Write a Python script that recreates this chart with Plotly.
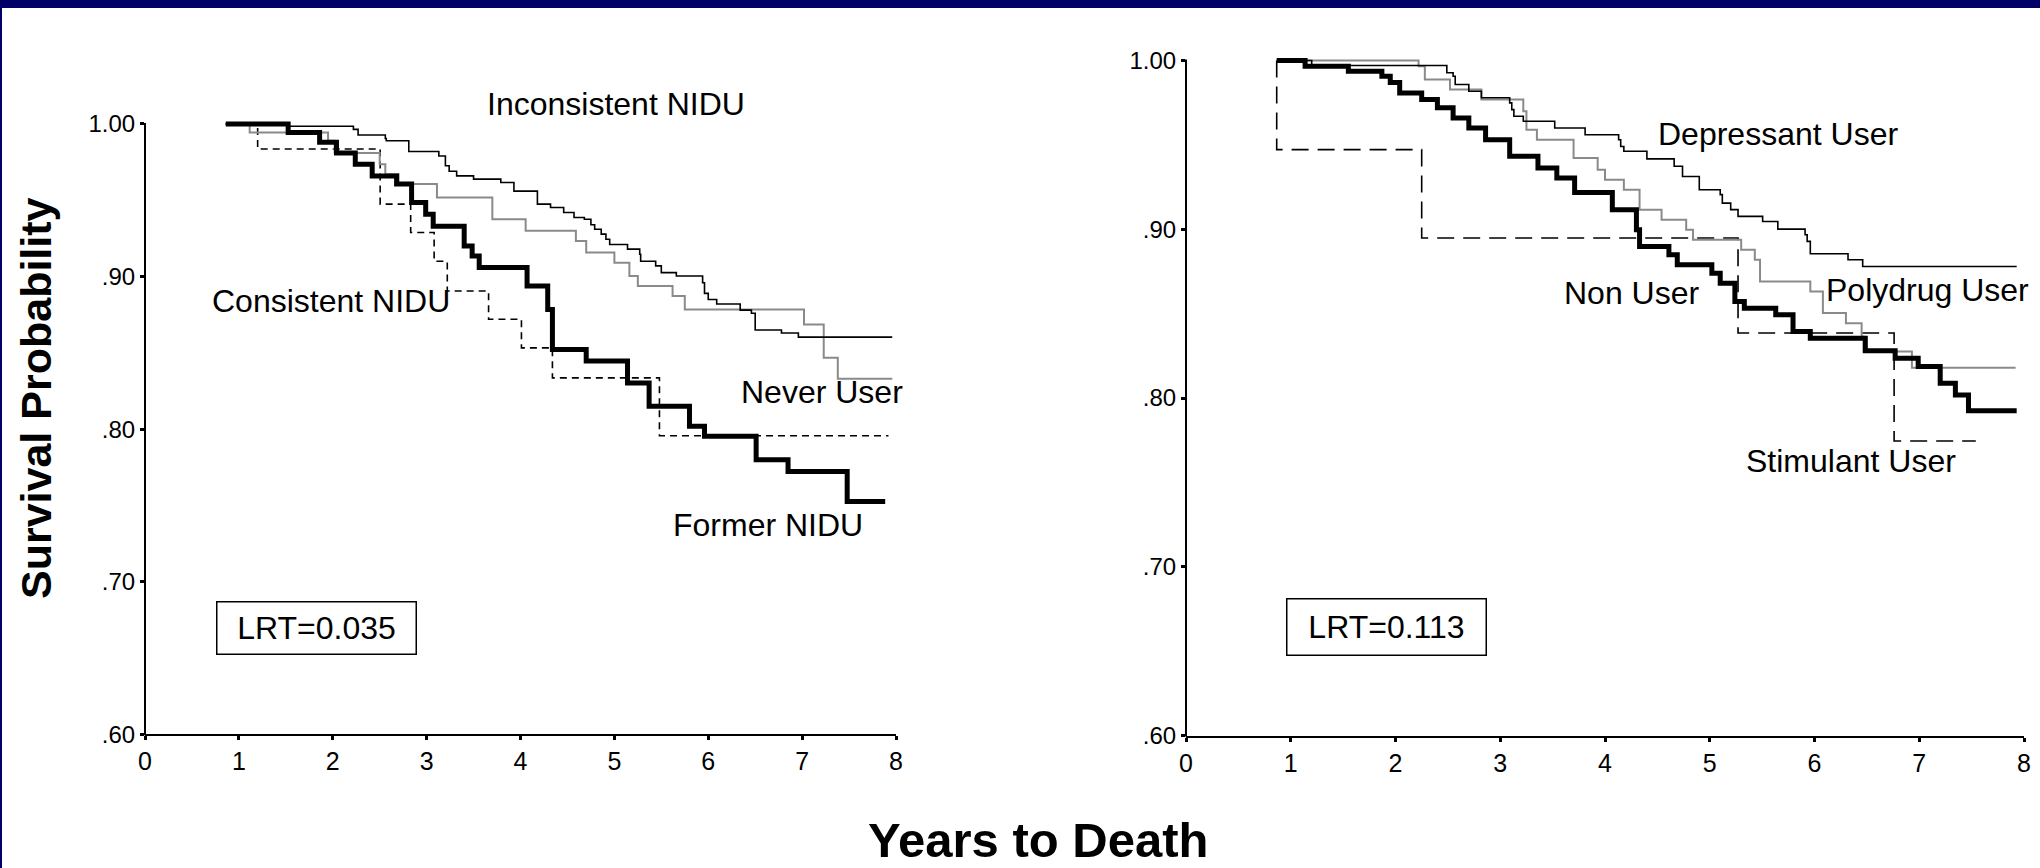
import plotly.graph_objects as go

# ---- Kaplan-Meier step data (years, survival probability) ----
# Panel A: NIDU (non-injection drug use) history
inconsistent_t = [0.86, 1.52, 2.22, 2.27, 2.56, 2.57, 2.81, 3.13, 3.20, 3.24, 3.32, 3.50, 3.79, 3.93,
                  4.18, 4.32, 4.46, 4.57, 4.68, 4.75, 4.79, 4.86, 4.91, 4.95, 5.14, 5.27, 5.28, 5.44,
                  5.50, 5.66, 5.94, 5.96, 6.00, 6.09, 6.34, 6.46, 6.50, 6.78, 6.96, 7.96]
inconsistent_s = [1.0, 0.9985, 0.9965, 0.9928, 0.9905, 0.989, 0.982, 0.979, 0.9726, 0.969, 0.966,
                  0.9639, 0.9617, 0.956, 0.9475, 0.9453, 0.942, 0.9387, 0.9376, 0.934, 0.931, 0.9278,
                  0.9245, 0.921, 0.918, 0.9146, 0.910, 0.907, 0.9026, 0.9004, 0.896, 0.889, 0.885,
                  0.882, 0.878, 0.876, 0.865, 0.863, 0.8603, 0.8603]

never_t = [0.86, 1.115, 1.95, 2.02, 2.50, 2.56, 2.70, 3.11, 3.70, 4.055, 4.59, 4.70, 5.00, 5.16,
           5.25, 5.62, 5.75, 7.02, 7.23, 7.38, 7.96]
never_s = [1.0, 0.9945, 0.989, 0.981, 0.9737, 0.967, 0.9606, 0.9518, 0.9376, 0.930, 0.9234, 0.9157,
           0.909, 0.9004, 0.8938, 0.8872, 0.8785, 0.8686, 0.8468, 0.833, 0.833]

former_t = [0.86, 1.525, 1.86, 2.04, 2.24, 2.42, 2.68, 2.84, 2.99, 3.07, 3.40, 3.485, 3.56, 4.07,
            4.29, 4.34, 4.70, 5.14, 5.37, 5.80, 5.96, 6.51, 6.85, 7.48, 7.885]
former_s = [1.0, 0.9945, 0.988, 0.981, 0.9737, 0.966, 0.9606, 0.9486, 0.9409, 0.933, 0.920, 0.9135,
            0.906, 0.8938, 0.8785, 0.8522, 0.8446, 0.8303, 0.815, 0.8019, 0.7953, 0.780, 0.7723,
            0.7526, 0.7526]

consistent_t = [0.86, 1.20, 2.505, 2.83, 3.08, 3.22, 3.66, 4.01, 4.34, 5.48, 7.92]
consistent_s = [1.0, 0.9836, 0.9475, 0.9289, 0.910, 0.8905, 0.872, 0.8533, 0.8336, 0.7957, 0.7957]

# Panel B: type of drug used
depressant_t = [0.866, 1.20, 2.49, 2.55, 2.57, 2.70, 2.82, 3.09, 3.11, 3.13, 3.22, 3.52, 3.81, 4.13,
                4.15, 4.18, 4.40, 4.66, 4.74, 4.90, 5.10, 5.12, 5.20, 5.27, 5.505, 5.65, 5.91, 5.93,
                5.96, 6.32, 6.46, 7.93]
depressant_s = [1.0, 0.997, 0.9927, 0.9907, 0.9858, 0.9818, 0.9779, 0.9749, 0.9709, 0.967, 0.964,
                0.960, 0.956, 0.953, 0.949, 0.9462, 0.9417, 0.9373, 0.9313, 0.9234, 0.9205, 0.9155,
                0.9116, 0.9076, 0.9046, 0.9001, 0.8967, 0.8928, 0.8855, 0.8819, 0.8779, 0.8779]

polydrug_t = [0.866, 2.22, 2.28, 2.52, 2.82, 3.22, 3.25, 3.35, 3.70, 3.93, 4.00, 4.18, 4.33, 4.54,
              4.775, 4.84, 5.30, 5.43, 5.48, 5.96, 6.08, 6.30, 6.45, 6.47, 6.93, 7.92]
polydrug_s = [1.0, 0.9966, 0.9887, 0.9828, 0.9769, 0.970, 0.959, 0.953, 0.9422, 0.9353, 0.9294,
              0.9234, 0.9116, 0.9056, 0.8997, 0.8938, 0.8878, 0.8819, 0.869, 0.8631, 0.8503,
              0.8443, 0.8364, 0.8275, 0.818, 0.818]

nonuser_t = [0.866, 1.137, 1.55, 1.87, 1.95, 2.04, 2.25, 2.40, 2.55, 2.70, 2.86, 3.09, 3.36, 3.54,
             3.71, 4.07, 4.30, 4.33, 4.61, 4.69, 5.02, 5.10, 5.24, 5.33, 5.63, 5.795, 5.96, 6.485,
             6.77, 6.99, 7.20, 7.345, 7.47, 7.93]
nonuser_s = [1.0, 0.9966, 0.9937, 0.9907, 0.987, 0.9808, 0.9769, 0.972, 0.966, 0.960, 0.953,
             0.9432, 0.9363, 0.9304, 0.9218, 0.9116, 0.8997, 0.8898, 0.8849, 0.8789, 0.874, 0.868,
             0.8572, 0.8532, 0.8493, 0.8394, 0.8354, 0.828, 0.8236, 0.8186, 0.8087, 0.8018,
             0.7925, 0.7925]

stimulant_t = [0.866, 0.866, 2.25, 5.27, 6.76, 7.54]
stimulant_s = [1.0, 0.9472, 0.8948, 0.8385, 0.7745, 0.7745]

x_ticks = [0, 1, 2, 3, 4, 5, 6, 7, 8]
y_ticks = [0.6, 0.7, 0.8, 0.9, 1.0]
y_tick_text = [".60", ".70", ".80", ".90", "1.00"]

lrt_left = "LRT=0.035"
lrt_right = "LRT=0.113"

# ---- figure geometry (pixels) ----
W, H = 2040, 868
FONT = "Arial, Liberation Sans, Helvetica, sans-serif"
GRAY = "#8a8a8a"


def px(x):
    return x / W


def py(y):
    return 1 - y / H


# panel placement: axis x=0 / x=8 columns and y=.60 / y=1.00 rows, in pixels
L = dict(x0=145, x8=896, y60=734.3, y100=124.0)
R = dict(x0=1186, x8=2024, y60=735.5, y100=60.5)
YTOP = 1.004


def ydomain(p):
    per = (p["y60"] - p["y100"]) / 0.4
    top = p["y60"] - (YTOP - 0.6) * per
    return [py(p["y60"]), py(top)]


fig = go.Figure()


def step(t, s, xa, ya, color, width, dash="solid"):
    fig.add_trace(go.Scatter(
        x=t, y=s, mode="lines", line=dict(shape="hv", color=color, width=width, dash=dash),
        xaxis=xa, yaxis=ya, showlegend=False, hoverinfo="skip"))


# panel A
step(consistent_t, consistent_s, "x", "y", "black", 1.6, "7px,5px")
step(never_t, never_s, "x", "y", GRAY, 2.0)
step(inconsistent_t, inconsistent_s, "x", "y", "black", 1.6)
step(former_t, former_s, "x", "y", "black", 5)

# panel B
step(stimulant_t, stimulant_s, "x2", "y2", "black", 1.6, "17px,9px")
step(polydrug_t, polydrug_s, "x2", "y2", GRAY, 2.0)
step(depressant_t, depressant_s, "x2", "y2", "black", 1.6)
step(nonuser_t, nonuser_s, "x2", "y2", "black", 5)

xaxis_common = dict(range=[0, 8], tickvals=x_ticks, ticktext=[str(v) for v in x_ticks],
                    showline=True, linecolor="black", linewidth=2, ticks="outside",
                    ticklen=4, tickwidth=3, tickcolor="black", showgrid=False, zeroline=False,
                    tickfont=dict(family=FONT, size=25, color="black"), fixedrange=True)
yaxis_common = dict(range=[0.6, YTOP], tickvals=y_ticks, ticktext=y_tick_text, showline=False,
                    ticks="outside", ticklen=4, tickwidth=3, tickcolor="black", showgrid=False,
                    zeroline=False, tickfont=dict(family=FONT, size=24, color="black"),
                    fixedrange=True)

fig.update_layout(
    width=W, height=H, margin=dict(l=0, r=0, t=0, b=0, autoexpand=False),
    paper_bgcolor="white", plot_bgcolor="white",
    xaxis=dict(domain=[px(L["x0"]), px(L["x8"])], anchor="y", **xaxis_common),
    yaxis=dict(domain=ydomain(L), anchor="x", **yaxis_common),
    xaxis2=dict(domain=[px(R["x0"]), px(R["x8"])], anchor="y2", **xaxis_common),
    yaxis2=dict(domain=ydomain(R), anchor="x2", **yaxis_common),
)

shapes = [
    # slide frame
    dict(type="rect", xref="paper", yref="paper", x0=0, x1=1, y0=py(8), y1=1,
         fillcolor="#000066", line=dict(width=0), layer="above"),
    dict(type="rect", xref="paper", yref="paper", x0=0, x1=px(2), y0=0, y1=1,
         fillcolor="#000066", line=dict(width=0), layer="above"),
]
# vertical axis lines running from .60 up to 1.00
for p in (L, R):
    shapes.append(dict(type="line", xref="paper", yref="paper", x0=px(p["x0"]), x1=px(p["x0"]),
                       y0=py(p["y60"] + 1), y1=py(p["y100"] - 1),
                       line=dict(color="black", width=2)))
fig.update_layout(shapes=shapes)

LABEL = dict(family=FONT, size=32, color="black")


def label(text, x, y, **kw):
    fig.add_annotation(text=text, x=px(x), y=py(y), xref="paper", yref="paper",
                       showarrow=False, xanchor="center", yanchor="middle", font=LABEL, **kw)


label("Inconsistent NIDU", 616, 104)
label("Consistent NIDU", 331, 301)
label("Never User", 822, 392)
label("Former NIDU", 768, 525)

label("Depressant User", 1778, 134)
label("Non User", 1632, 293)
label("Polydrug User", 1927, 290)
label("Stimulant User", 1851, 461)

label(lrt_left, 316, 628, bordercolor="black", borderwidth=1.5, borderpad=0,
      width=198, height=51)
label(lrt_right, 1386, 626.5, bordercolor="black", borderwidth=1.5, borderpad=0,
      width=198, height=55)

fig.add_annotation(text="<b>Survival Probability</b>", x=px(36), y=py(398), xref="paper",
                   yref="paper", showarrow=False, textangle=-90, xanchor="center",
                   yanchor="middle", font=dict(family=FONT, size=43, color="black"))
# x-axis title sits on the bottom edge of the page
fig.add_annotation(text="<b>Years to Death</b>", x=px(1038), y=0, xref="paper",
                   yref="paper", showarrow=False, xanchor="center", yanchor="bottom",
                   borderpad=0, font=dict(family=FONT, size=49, color="black"))

fig.write_html("out.html", config={"responsive": False})
